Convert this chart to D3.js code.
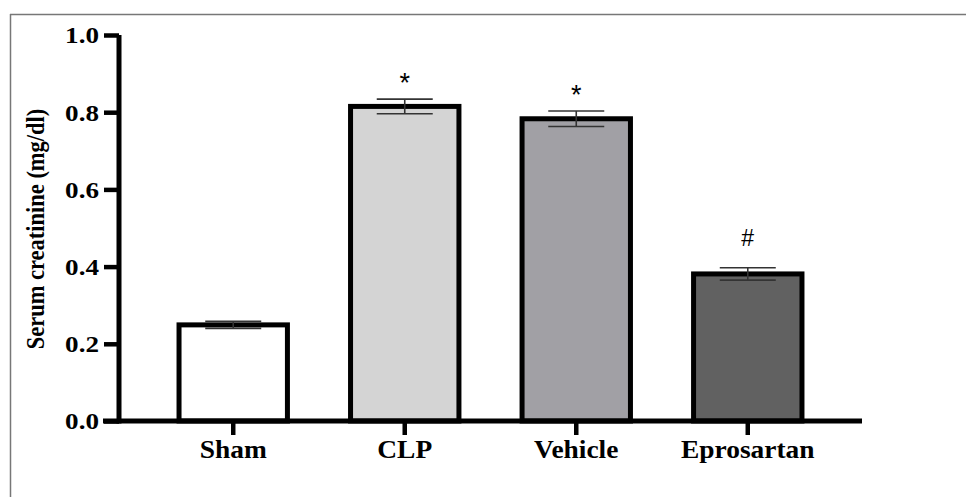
<!DOCTYPE html>
<html>
<head>
<meta charset="utf-8">
<script src="https://cdn.jsdelivr.net/npm/d3@7"></script>
<style>
  body { margin: 0; background: #fff; }
  svg { display: block; }
</style>
</head>
<body>
<div id="chart"></div>
<script>
// data
var groups = ["Sham", "CLP", "Vehicle", "Eprosartan"];
var means = [0.249, 0.815, 0.783, 0.381];
var errors = [0.009, 0.019, 0.02, 0.016];
var marks = ["", "*", "*", "#"];
var fills = ["#ffffff", "#d4d4d4", "#a1a0a5", "#616161"];
var yTicks = [0.0, 0.2, 0.4, 0.6, 0.8, 1.0];

var W = 966, H = 497;
var margin = {top: 35, left: 119, right: 104, bottom: 76};
var stretch = 1.12; // the picture is a bit wider than normal type

var svg = d3.select("#chart").append("svg")
    .attr("width", W)
    .attr("height", H);

// frame (only top and left edges show)
svg.append("line")
    .attr("x1", 10).attr("x2", W).attr("y1", 14.5).attr("y2", 14.5)
    .attr("stroke", "#777").attr("stroke-width", 1.5);
svg.append("line")
    .attr("x1", 10.5).attr("x2", 10.5).attr("y1", 14).attr("y2", H)
    .attr("stroke", "#777").attr("stroke-width", 1.5);

var x = d3.scaleBand()
    .domain(groups)
    .range([margin.left, W - margin.right])
    .paddingInner(0.368)
    .paddingOuter(0.35);

var y = d3.scaleLinear()
    .domain([0, 1])
    .range([H - margin.bottom, margin.top]);

var data = groups.map(function(g, i) {
  return {name: g, mean: means[i], err: errors[i], mark: marks[i], fill: fills[i]};
});

//bars
svg.append("g").selectAll("rect")
    .data(data)
    .enter().append("rect")
    .attr("x", function(d){ return x(d.name); })
    .attr("y", function(d){ return y(d.mean); })
    .attr("width", x.bandwidth())
    .attr("height", function(d){ return y(0) - y(d.mean); })
    .attr("fill", function(d){ return d.fill; })
    .attr("stroke", "#000")
    .attr("stroke-width", 5);

//error bars
var capW = 56;
var eb = svg.append("g")
    .attr("stroke", "#333")
    .attr("stroke-width", 1.6)
    .selectAll("g")
    .data(data)
    .enter().append("g");
eb.append("line")
    .attr("x1", function(d){ return x(d.name) + x.bandwidth()/2; })
    .attr("x2", function(d){ return x(d.name) + x.bandwidth()/2; })
    .attr("y1", function(d){ return y(d.mean + d.err); })
    .attr("y2", function(d){ return y(d.mean - d.err); });
eb.append("line")
    .attr("x1", function(d){ return x(d.name) + x.bandwidth()/2 - capW/2; })
    .attr("x2", function(d){ return x(d.name) + x.bandwidth()/2 + capW/2; })
    .attr("y1", function(d){ return y(d.mean + d.err); })
    .attr("y2", function(d){ return y(d.mean + d.err); });
eb.append("line")
    .attr("x1", function(d){ return x(d.name) + x.bandwidth()/2 - capW/2; })
    .attr("x2", function(d){ return x(d.name) + x.bandwidth()/2 + capW/2; })
    .attr("y1", function(d){ return y(d.mean - d.err); })
    .attr("y2", function(d){ return y(d.mean - d.err); });

//significance marks
svg.append("g").selectAll("text")
    .data(data.filter(function(d){ return d.mark; }))
    .enter().append("text")
    .attr("x", function(d){ return x(d.name) + x.bandwidth()/2; })
    .attr("y", function(d){ return y(d.mean + d.err) - (d.mark == "#" ? 22 : 7); })
    .attr("text-anchor", "middle")
    .attr("font-family", "Liberation Sans, Arial, sans-serif")
    .attr("font-size", function(d){ return d.mark == "#" ? 23 : 27; })
    .attr("fill", "#000")
    .text(function(d){ return d.mark; });

//y axis
var yAxis = svg.append("g")
    .attr("transform", "translate(" + margin.left + ",0)")
    .call(d3.axisLeft(y).tickValues(yTicks).tickFormat(d3.format(".1f"))
          .tickSize(15).tickSizeOuter(0));
yAxis.select(".domain").attr("stroke-width", 5)
    .attr("d", "M0," + (y(0) + 2.5) + "V" + y(1));
yAxis.selectAll(".tick line").attr("stroke-width", 4.5);
yAxis.selectAll(".tick text")
    .attr("x", 0)
    .attr("dy", "0.34em")
    .attr("transform", "translate(-20,0) scale(" + (stretch + 0.06) + ",1)")
    .attr("font-family", "Liberation Serif, Times New Roman, serif")
    .attr("font-weight", "bold")
    .attr("font-size", 23)
    .attr("fill", "#000");

//x axis
var xAxis = svg.append("g")
    .attr("transform", "translate(0," + y(0) + ")")
    .call(d3.axisBottom(x).tickSize(14).tickSizeOuter(0));
xAxis.select(".domain").attr("stroke-width", 5)
    .attr("d", "M" + (margin.left - 16) + ",0H" + (W - margin.right));
xAxis.selectAll(".tick line").attr("stroke-width", 4.5);
xAxis.selectAll(".tick text")
    .attr("y", 37)
    .attr("dy", 0)
    .attr("transform", "scale(" + stretch + ",1)")
    .attr("font-family", "Liberation Serif, Times New Roman, serif")
    .attr("font-weight", "bold")
    .attr("font-size", 24.5)
    .attr("fill", "#000");

//y axis title
svg.append("text")
    .attr("transform", "translate(44,229) scale(" + stretch + ",1) rotate(-90)")
    .attr("text-anchor", "middle")
    .attr("font-family", "Liberation Serif, Times New Roman, serif")
    .attr("font-weight", "bold")
    .attr("font-size", 22.5)
    .attr("fill", "#000")
    .text("Serum creatinine (mg/dl)");
</script>
</body>
</html>
